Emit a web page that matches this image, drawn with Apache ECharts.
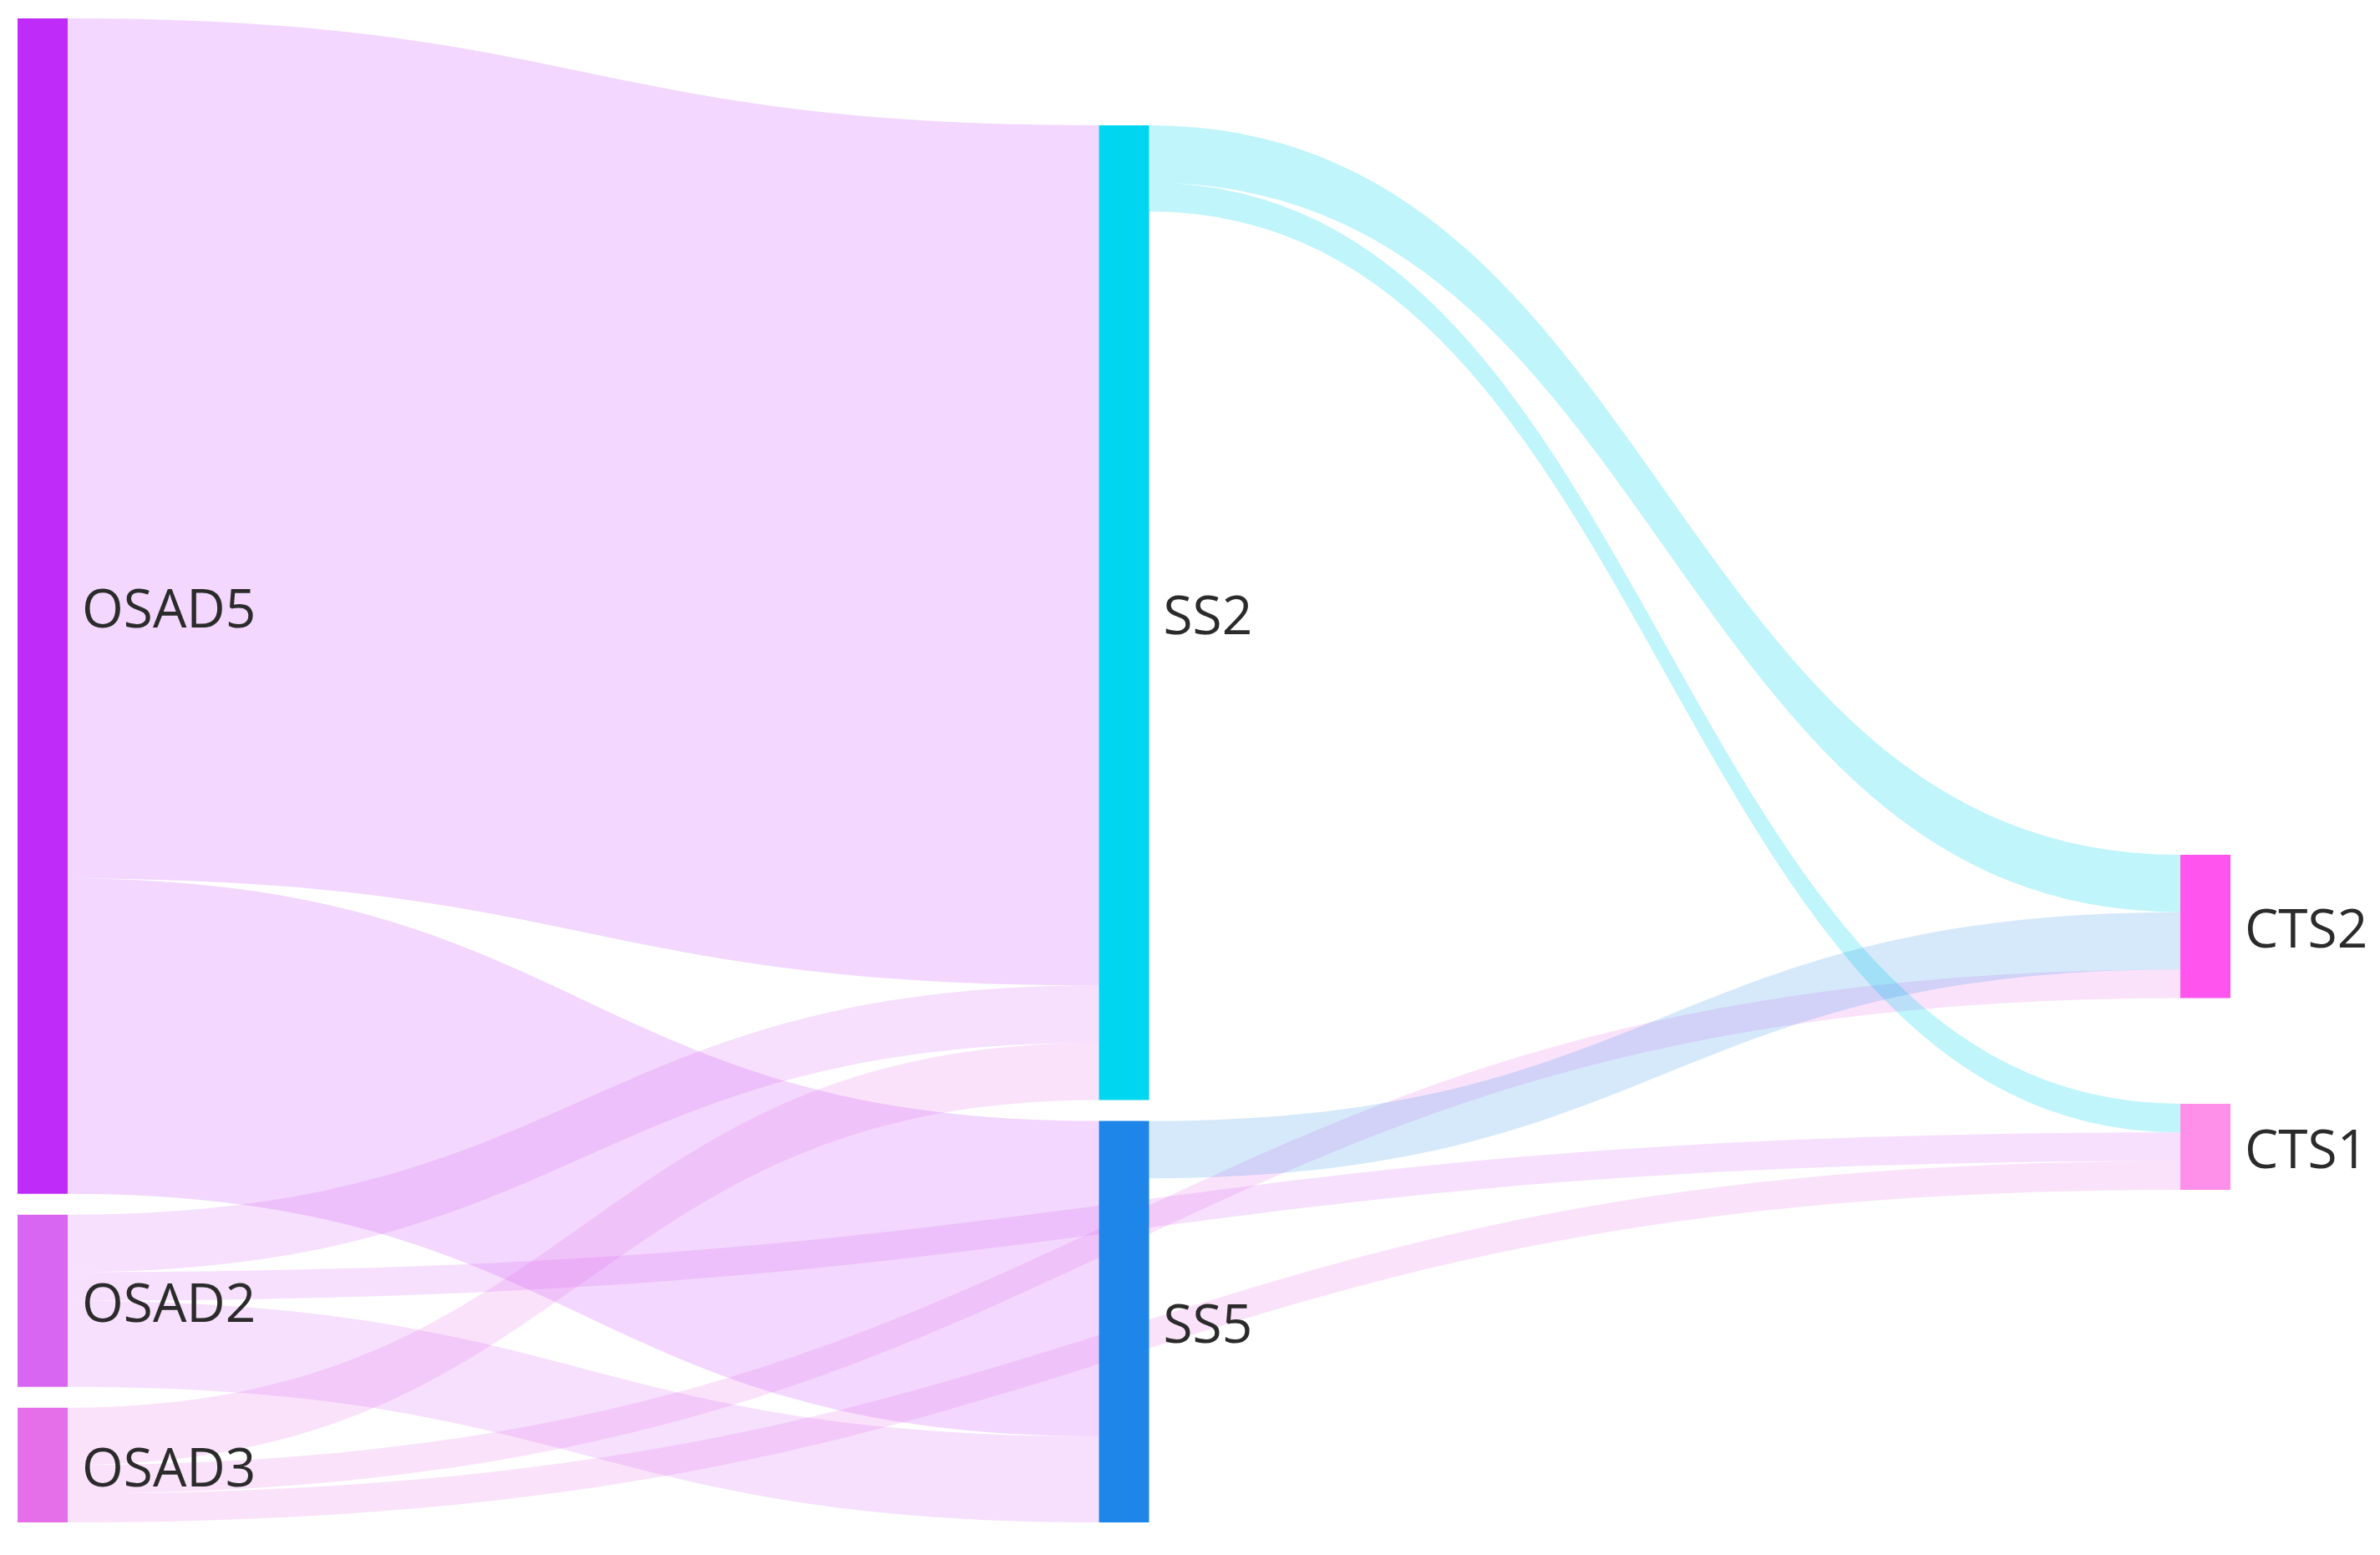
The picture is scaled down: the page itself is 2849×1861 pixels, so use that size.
<!DOCTYPE html>
<html>
<head>
<meta charset="utf-8">
<script src="https://cdn.jsdelivr.net/npm/echarts@6/dist/echarts.min.js"></script>
<style>
html,body{margin:0;padding:0;background:#fff;}
#chart{width:2849px;height:1861px;}
</style>
</head>
<body>
<div id="chart"></div>
<script>
const nodeNames = ['OSAD5', 'OSAD2', 'OSAD3', 'SS2', 'SS5', 'CTS2', 'CTS1'];
const nodeColors = ['#bf2cf9', '#d965f3', '#e46fe9', '#00d6ef', '#1e86e8', '#ff55ee', '#ff90ea'];
const linkOpacityBySource = { OSAD5: 0.19, OSAD2: 0.2, OSAD3: 0.2, SS2: 0.25, SS5: 0.18 };

const linkSources = ['OSAD5', 'OSAD5', 'OSAD2', 'OSAD2', 'OSAD2', 'OSAD3', 'OSAD3', 'OSAD3', 'SS2', 'SS2', 'SS5'];
const linkTargets = ['SS2', 'SS5', 'SS2', 'CTS1', 'SS5', 'SS2', 'CTS2', 'CTS1', 'CTS2', 'CTS1', 'CTS2'];
const linkValues  = [30, 11, 2, 1, 3, 2, 1, 1, 2, 1, 2];

const nodes = nodeNames.map((n, i) => ({
  name: n,
  itemStyle: { color: nodeColors[i], borderWidth: 0 }
}));
const links = linkSources.map((s, i) => ({
  source: s, target: linkTargets[i], value: linkValues[i],
  lineStyle: { opacity: linkOpacityBySource[s] }
}));

const chart = echarts.init(document.getElementById('chart'));
chart.setOption({
  animation: false,
  backgroundColor: '#ffffff',
  series: [{
    type: 'sankey',
    left: 21,
    top: 22,
    right: 179,
    bottom: 39,
    nodeWidth: 60,
    nodeGap: 25,
    data: nodes,
    links: links,
    emphasis: { disabled: true },
    itemStyle: { borderWidth: 0 },
    lineStyle: { color: 'source', opacity: 0.2, curveness: 0.5 },
    label: {
      show: true,
      position: 'right',
      distance: 17,
      offset: [0, 7],
      color: '#2b2b2b',
      fontFamily: 'Open Sans',
      fontSize: 64
    }
  }]
});
</script>
</body>
</html>
